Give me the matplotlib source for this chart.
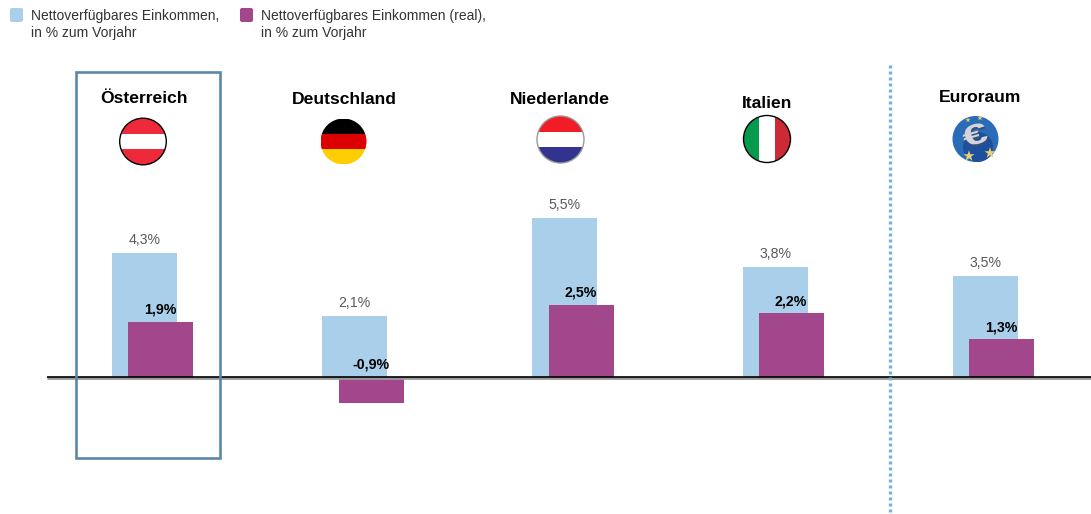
import matplotlib
matplotlib.use("Agg")
import matplotlib.pyplot as plt
from matplotlib.patches import Circle, Rectangle, FancyBboxPatch, PathPatch
from matplotlib.lines import Line2D
from matplotlib.textpath import TextPath
from matplotlib.font_manager import FontProperties
from matplotlib.transforms import Affine2D

plt.rcParams['font.family'] = ['Liberation Sans', 'DejaVu Sans']

# Data
countries = ["Österreich", "Deutschland", "Niederlande", "Italien", "Euroraum"]
nominal = [4.3, 2.1, 5.5, 3.8, 3.5]
real = [1.9, -0.9, 2.5, 2.2, 1.3]
nominal_labels = ["4,3%", "2,1%", "5,5%", "3,8%", "3,5%"]
real_labels = ["1,9%", "-0,9%", "2,5%", "2,2%", "1,3%"]
legend_labels = ["Nettoverfügbares Einkommen,\nin % zum Vorjahr",
                 "Nettoverfügbares Einkommen (real),\nin % zum Vorjahr"]

BLUE = "#a9cfea"
PURPLE = "#a3478c"
W, H = 1091, 514
fig = plt.figure(figsize=(W / 100, H / 100), dpi=100, facecolor="white")

# Bar axes: one category every 210.2 px, about 29 px per percentage point
ax = fig.add_axes([0, 0, 1, 1])
step, ppu, zero_y, first_x = 210.2, 28.9, 376.8, 144.5
ax.set_xlim(-first_x / step, (W - first_x) / step)
ax.set_ylim(-(H - zero_y) / ppu, zero_y / ppu)
ax.axis("off")
bar_w = 65 / step
offset = 16.3 / step
dy = 1 / ppu

for i, (n, r) in enumerate(zip(nominal, real)):
    ax.bar(i, n, width=bar_w, color=BLUE, zorder=2)
    ax.bar(i + offset, r, width=bar_w, color=PURPLE, zorder=3)
    ax.text(i, n + 6 * dy, nominal_labels[i], ha="center", va="bottom",
            fontsize=10.2, color="#595959", zorder=6)
    lab_y = max(r, 0) + 5 * dy
    ax.text(i + 16 / step, lab_y, real_labels[i], ha="center", va="bottom",
            fontsize=10.2, fontweight="bold", color="black", zorder=6)

# Overlay in pixel units for the legend, frame, separator and flags
ov = fig.add_axes([0, 0, 1, 1], facecolor="none")
ov.set_xlim(0, W)
ov.set_ylim(H, 0)
ov.axis("off")

ov.plot([47, W], [377.6, 377.6], color="#9a9a9a", lw=2.0, zorder=4, solid_capstyle="butt")
ov.plot([47, W], [377.0, 377.0], color="black", lw=1.2, zorder=5, solid_capstyle="butt")

ov.add_patch(Rectangle((76, 72), 143.5, 386, fill=False, ec="#5b87ab", lw=1.9, zorder=7))
ov.add_line(Line2D([890, 890], [65, H], color="#76b2e0", lw=2.4,
                   linestyle=(0, (0.9, 0.9)), zorder=7))

# Legend swatches and text
for x, tx, col, lab in zip([10, 240], [31, 261], [BLUE, PURPLE], legend_labels):
    ov.add_patch(FancyBboxPatch((x + 1, 9), 11, 12, boxstyle="round,pad=1,rounding_size=2",
                                fc=col, ec="none"))
    ov.text(tx, 9, lab, ha="left", va="top", fontsize=10, color="#333333", linespacing=1.3)

# Country titles
title_pos = [(144, 98.5), (344, 99.5), (560, 99.5), (767, 103), (980, 97.5)]
for name, (x, y) in zip(countries, title_pos):
    ov.text(x, y, name, ha="center", va="center", fontsize=12.6, fontweight="bold", color="black")


def striped(cx, cy, r, stripes, horizontal=True, edge="black"):
    """Round flag made of equal stripes clipped to a circle."""
    clip = Circle((cx, cy), r, transform=ov.transData)
    n = len(stripes)
    for k, c in enumerate(stripes):
        if horizontal:
            p = Rectangle((cx - r, cy - r + 2 * r * k / n), 2 * r, 2 * r / n, fc=c, ec="none", zorder=8)
        else:
            p = Rectangle((cx - r + 2 * r * k / n, cy - r), 2 * r / n, 2 * r, fc=c, ec="none", zorder=8)
        ov.add_patch(p)
        p.set_clip_path(clip)
    if edge:
        ov.add_patch(Circle((cx, cy), r, fill=False, ec=edge, lw=1.0, zorder=9))


striped(143, 141.5, 23.3, ["#ee2a3a", "#ffffff", "#ee2a3a"])
striped(343.5, 141.5, 23, ["#000000", "#dd0000", "#ffce00"], edge=None)
striped(560.5, 139.5, 23.5, ["#f01c26", "#ffffff", "#31338f"], edge="#999999")
striped(767, 139, 23.5, ["#069a4e", "#ffffff", "#cd2a36"], horizontal=False)

# Euro emblem: blue disc, a wide tilted euro sign with a dark shadow, gold stars
ov.add_patch(Circle((975.5, 139), 23, fc="#2a6cb8", ec="none", zorder=8))
ov.add_patch(Circle((978, 147), 15, fc="#1d4f9c", ec="none", zorder=8))
glyph = TextPath((0, 0), "€", size=30, prop=FontProperties(family="Liberation Sans", weight="bold"))
bb = glyph.get_extents()
for (gx, gy), col in zip([(975.5, 136.5), (974.5, 134.5)], ["#38507e", "#d3d5da"]):
    tr = (Affine2D().translate(-bb.x0 - bb.width / 2, -bb.y0 - bb.height / 2)
          .scale(1.5, -0.95).rotate_deg(-16).translate(gx, gy))
    ov.add_patch(PathPatch(glyph, transform=tr + ov.transData, fc=col, ec="none", zorder=10))
star_x = [969, 990, 968, 980]
star_y = [156, 153, 120, 118]
star_s = [70, 70, 16, 16]
ov.scatter(star_x, star_y, marker="*", s=star_s, color="#e8cf70", linewidths=0, zorder=11)

fig.savefig("out.png", dpi=100, facecolor="white")
